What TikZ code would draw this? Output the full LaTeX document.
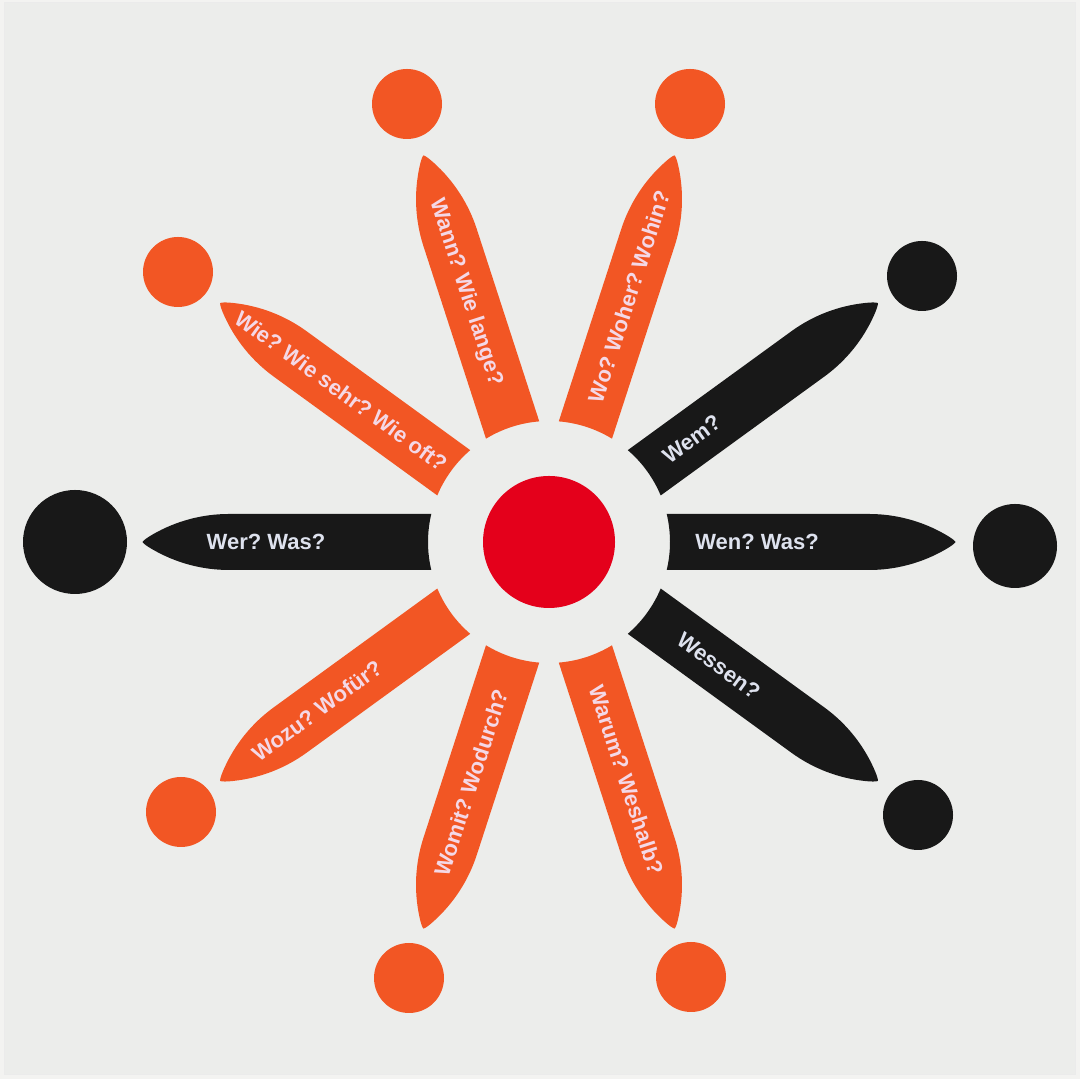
\documentclass[tikz,border=0pt]{standalone}
\usepackage{fontspec}
\setmainfont{Liberation Sans}
\frenchspacing
\definecolor{bgpaper}{RGB}{243,243,241}
\definecolor{board}{RGB}{236,237,235}
\definecolor{org}{RGB}{242,86,36}
\definecolor{redc}{RGB}{228,0,27}
\definecolor{blk}{RGB}{24,24,24}
\definecolor{txo}{RGB}{244,216,230}
\definecolor{txb}{RGB}{222,226,238}
\tikzset{
  qtext/.style={font=\bfseries\fontsize{11}{13}\selectfont, text height=7.9pt, text depth=0pt, inner sep=0pt},
  onorange/.style={qtext, text=txo},
  onblack/.style={qtext, text=txb},
}
\newcommand\mypetal[2]{%
  \begin{scope}[shift={(C)}, rotate=#1]
    \fill[#2] (13.38:121) -- (320,28) arc[start angle=90, end angle=60, radius=152.3]
      .. controls (401.4,4.6) and (405.5,1.8) .. (406.5,0)
      .. controls (405.5,-1.8) and (401.4,-4.6) .. (396.2,-7.6)
      arc[start angle=-60, end angle=-90, radius=152.3] -- (-13.38:121)
      arc[start angle=-13.38, end angle=13.38, radius=121] -- cycle;
  \end{scope}}
\begin{document}
\begin{tikzpicture}[x=0.5pt,y=0.5pt]
\useasboundingbox (0,0) rectangle (1080,1079);
\fill[bgpaper] (0,0) rectangle (1080,1079);
\fill[board, draw=black!8, line width=0.5pt] (4,4) rectangle (1075,1076);
\coordinate (C) at (549,537);
% centre
\fill[redc] (C) circle[radius=66];
% petals
\mypetal{0}{blk}
\mypetal{36}{blk}
\mypetal{-36}{blk}
\mypetal{180}{blk}
\mypetal{72}{org}
\mypetal{108}{org}
\mypetal{144}{org}
\mypetal{216}{org}
\mypetal{252}{org}
\mypetal{288}{org}
% dots
\fill[blk] (75,537) circle[radius=52];
\fill[blk] (1015,533) circle[radius=42];
\fill[blk] (922,803) circle[radius=35];
\fill[blk] (918,264) circle[radius=35];
\fill[org] (178,807) circle[radius=35];
\fill[org] (181,267) circle[radius=35];
\fill[org] (407,975) circle[radius=35];
\fill[org] (690,975) circle[radius=35];
\fill[org] (409,101) circle[radius=35];
\fill[org] (691,102) circle[radius=35];
% texts
\node[onblack] (t180) at ([shift={(180:283)}]C) {Wer? Was?};
\node[onblack] (t0) at ([shift={(0:208)}]C) {Wen? Was?};
\node[onblack, rotate=36] (t36) at ([shift={(36:176)}]C) {Wem?};
\node[onblack, rotate=-36] (t324) at ([shift={(-36:210)}]C) {Wessen?};
\node[onorange, rotate=-36] (t144) at ([shift={(144:257)}]C) {Wie? Wie sehr? Wie oft?};
\node[onorange, rotate=36] (t216) at ([shift={(216:287)}]C) {Wozu? Wofür?};
\node[onorange, rotate=-72] (t108) at ([shift={(108:263)}]C) {Wann? Wie lange?};
\node[onorange, rotate=72] (t72) at ([shift={(72:258)}]C) {Wo? Woher? Wohin?};
\node[onorange, rotate=72] (t252) at ([shift={(252:253)}]C) {Womit? Wodurch?};
\node[onorange, rotate=-72] (t288) at ([shift={(288:250)}]C) {Warum? Weshalb?};
\end{tikzpicture}
\end{document}
